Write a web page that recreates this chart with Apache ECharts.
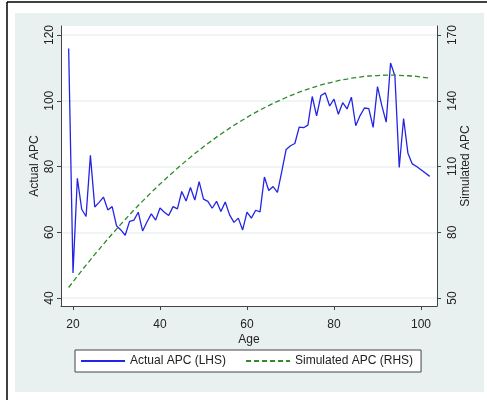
<!DOCTYPE html>
<html>
<head>
<meta charset="utf-8">
<script src="https://cdn.jsdelivr.net/npm/echarts@6/dist/echarts.min.js"></script>
<style>
  html, body { margin: 0; padding: 0; background: #fff; }
  #main { width: 487px; height: 400px; }
</style>
</head>
<body>
<div id="main"></div>
<script>
// ages 19..102
const ages = [19, 20, 21, 22, 23, 24, 25, 26, 27, 28, 29, 30, 31, 32, 33, 34, 35, 36, 37, 38,
  39, 40, 41, 42, 43, 44, 45, 46, 47, 48, 49, 50, 51, 52, 53, 54, 55, 56, 57, 58,
  59, 60, 61, 62, 63, 64, 65, 66, 67, 68, 69, 70, 71, 72, 73, 74, 75, 76, 77, 78,
  79, 80, 81, 82, 83, 84, 85, 86, 87, 88, 89, 90, 91, 92, 93, 94, 95, 96, 97, 98,
  99, 100, 101, 102]

// Actual APC (left axis)
const actualApc = [115.9, 47.6, 76.4, 67.0, 64.8, 83.4, 67.7, 69.1, 70.7, 66.8, 67.8, 62.0, 60.7, 59.1, 63.3, 63.7, 66.1, 60.4, 63.1, 65.6,
  63.7, 67.4, 66.1, 65.1, 67.8, 67.1, 72.4, 69.5, 73.6, 69.8, 75.4, 70.1, 69.4, 67.3, 69.4, 66.3, 69.2, 65.3, 63.0, 64.3,
  60.7, 66.1, 64.3, 66.7, 66.2, 76.8, 72.7, 73.9, 72.1, 78.5, 85.2, 86.3, 87.0, 92.0, 91.8, 92.6, 101.3, 95.4, 101.6, 102.4,
  98.4, 100.5, 95.9, 99.4, 97.5, 101.1, 92.4, 95.5, 97.8, 97.6, 91.9, 104.3, 98.5, 93.5, 111.5, 107.6, 79.7, 94.6, 84.0, 80.8,
  80.0, 79.0, 78.0, 77.0]

// Simulated APC (right axis)
const simulatedApc = [54.8, 57.4, 59.9, 62.5, 65.0, 67.4, 69.9, 72.2, 74.6, 76.9, 79.2, 81.4, 83.7, 85.8, 88.0, 90.1, 92.2, 94.2, 96.2, 98.2,
  100.1, 102.0, 103.8, 105.7, 107.4, 109.2, 110.9, 112.6, 114.2, 115.9, 117.4, 119.0, 120.5, 121.9, 123.4, 124.8, 126.1, 127.5, 128.8, 130.0,
  131.2, 132.4, 133.6, 134.7, 135.8, 136.8, 137.8, 138.8, 139.7, 140.6, 141.5, 142.3, 143.1, 143.9, 144.6, 145.3, 146.0, 146.6, 147.2, 147.7,
  148.2, 148.7, 149.2, 149.6, 149.9, 150.3, 150.6, 150.8, 151.1, 151.3, 151.4, 151.5, 151.6, 151.7, 151.7, 151.7, 151.6, 151.5, 151.4, 151.3,
  151.1, 150.8, 150.6, 150.3]

const xTicks = [20, 40, 60, 80, 100]
const leftTicks = [40, 60, 80, 100, 120]
const rightTicks = [50, 80, 110, 140, 170]

const font = 'Liberation Sans, Arial, sans-serif'
const textColor = '#222'
const axisColor = '#444'

const chart = echarts.init(document.getElementById('main'))
chart.setOption({
  animation: false,
  backgroundColor: '#fff',
  graphic: [
    { type: 'rect', z: -100, shape: { x: 15, y: 13, width: 469, height: 379 }, style: { fill: '#e9f0f0' } },
    { type: 'line', shape: { x1: 7, y1: 2, x2: 487, y2: 2 }, style: { stroke: '#000', lineWidth: 1.5 } },
    { type: 'line', shape: { x1: 7, y1: 2, x2: 7, y2: 400 }, style: { stroke: '#000', lineWidth: 1.5 } }
  ],
  grid: {
    left: 61, right: 50, top: 26, bottom: 94,
    show: true, backgroundColor: '#fff', borderWidth: 0
  },
  legend: {
    left: 75, top: 350,
    padding: [5, 8, 5, 5],
    backgroundColor: '#fff',
    borderColor: axisColor,
    borderWidth: 1,
    borderRadius: 0,
    itemWidth: 44,
    itemHeight: 13,
    itemGap: 19,
    itemStyle: { opacity: 0 },
    textStyle: { fontFamily: font, fontSize: 12, color: textColor },
    data: ['Actual APC (LHS)', 'Simulated APC (RHS)']
  },
  xAxis: {
    type: 'value',
    min: 17.24, max: 103.68,
    name: 'Age',
    nameLocation: 'middle',
    nameGap: 28,
    nameMoveOverlap: false,
    nameTextStyle: { fontFamily: font, fontSize: 12, color: textColor },
    axisLine: { show: true, lineStyle: { color: axisColor, width: 1 } },
    axisTick: { show: true, length: 4, customValues: xTicks, lineStyle: { color: axisColor } },
    axisLabel: { customValues: xTicks, margin: 13, fontFamily: font, fontSize: 12, color: textColor },
    splitLine: { show: false }
  },
  yAxis: [{
    type: 'value',
    position: 'left',
    min: 37.57, max: 122.74,
    name: 'Actual APC',
    nameLocation: 'middle',
    nameRotate: 90,
    nameGap: 20,
    nameMoveOverlap: false,
    nameTextStyle: { fontFamily: font, fontSize: 12, color: textColor },
    axisLine: { show: true, lineStyle: { color: axisColor, width: 1 } },
    axisTick: { show: true, length: 4, customValues: leftTicks, lineStyle: { color: axisColor } },
    axisLabel: { customValues: leftTicks, rotate: 90, margin: 5, fontFamily: font, fontSize: 12, color: textColor },
    splitLine: { show: true, lineStyle: { color: '#eaf0f0', width: 1.5 } }
  }, {
    type: 'value',
    position: 'right',
    min: 46.35, max: 174.11,
    name: 'Simulated APC',
    nameLocation: 'middle',
    nameRotate: 90,
    nameGap: 23,
    nameMoveOverlap: false,
    nameTextStyle: { fontFamily: font, fontSize: 12, color: textColor },
    axisLine: { show: true, lineStyle: { color: axisColor, width: 1 } },
    axisTick: { show: true, length: 4, customValues: rightTicks, lineStyle: { color: axisColor } },
    axisLabel: { customValues: rightTicks, rotate: 90, margin: 10, fontFamily: font, fontSize: 12, color: textColor },
    splitLine: { show: false }
  }],
  series: [{
    name: 'Actual APC (LHS)',
    type: 'line',
    yAxisIndex: 0,
    symbol: 'none',
    data: ages.map((a, i) => [a, actualApc[i]]),
    itemStyle: { color: '#2424e6' },
    lineStyle: { color: '#2424e6', width: 1.3 }
  }, {
    name: 'Simulated APC (RHS)',
    type: 'line',
    yAxisIndex: 1,
    symbol: 'none',
    data: ages.map((a, i) => [a, simulatedApc[i]]),
    itemStyle: { color: '#2e8b2e' },
    lineStyle: { color: '#2e8b2e', width: 1.3, type: [5, 3] }
  }]
})
</script>
</body>
</html>
